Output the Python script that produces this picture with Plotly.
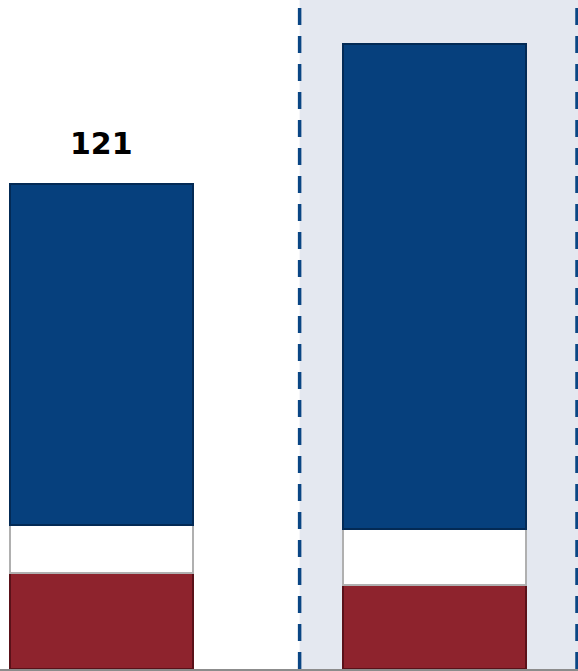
import plotly.graph_objects as go

# Data
categories = [0, 1]
red_vals = [24, 21]
white_vals = [12, 14]
blue_vals = [85, 121]
label_vals = ["121", ""]

RED = "#8E232D"
BLUE = "#06407D"
WHITE = "#FFFFFF"

fig = go.Figure()
BW = 0.552
fig.add_trace(go.Bar(x=categories, y=red_vals, width=BW, marker=dict(color=RED, line=dict(color="#5A1119", width=2))))
fig.add_trace(go.Bar(x=categories, y=white_vals, width=BW, marker=dict(color=WHITE, line=dict(color="#B0B0B0", width=2))))
fig.add_trace(go.Bar(x=categories, y=blue_vals, width=BW, marker=dict(color=BLUE, line=dict(color="#032A55", width=2))))

totals = [r + w + b for r, w, b in zip(red_vals, white_vals, blue_vals)]
for c, t, lab in zip(categories, totals, label_vals):
    if lab:
        fig.add_annotation(x=c, y=t, text=f"<b>{lab}</b>", showarrow=False,
                           yanchor="middle", yshift=40,
                           font=dict(family="DejaVu Sans", size=30, color="black"))

# shaded region and dashed separators
fig.add_shape(type="rect", xref="x", yref="paper", x0=0.595, x1=1.5, y0=0, y1=1,
              fillcolor="#E4E8F0", line=dict(width=0), layer="below")
for xv in [0.595, 1.428]:
    fig.add_shape(type="line", xref="x", yref="paper", x0=xv, x1=xv, y0=0, y1=1,
                  line=dict(color="#0A4684", width=3.5, dash="17px,11px"), layer="above")

fig.update_layout(
    barmode="stack", width=578, height=671,
    margin=dict(l=0, r=0, t=0, b=2),
    plot_bgcolor="white", paper_bgcolor="white", showlegend=False, bargap=0,
    xaxis=dict(range=[-0.3048, 1.431], showgrid=False, zeroline=False, showticklabels=False,
               showline=True, linecolor="#8C8C8C", linewidth=2, ticks=""),
    yaxis=dict(range=[0, 166.9], showgrid=False, zeroline=False, showticklabels=False, showline=False),
)
fig.write_html("out.html")
